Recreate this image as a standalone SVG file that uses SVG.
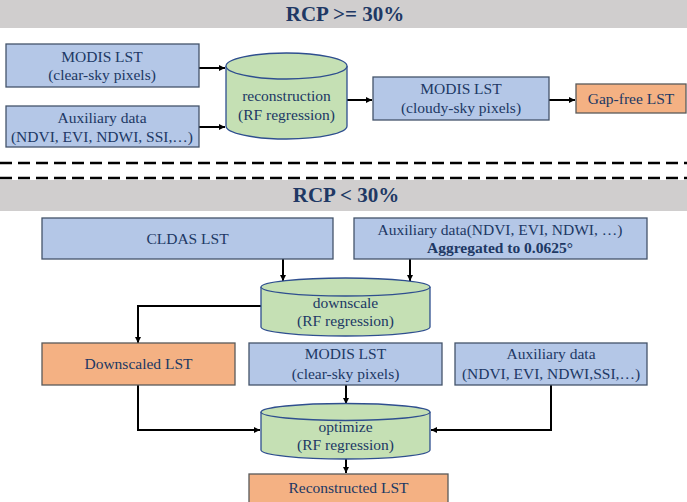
<svg xmlns="http://www.w3.org/2000/svg" width="687" height="502" viewBox="0 0 687 502">
<defs>
<style>
.t{font-family:"Liberation Serif","Times New Roman",serif;font-size:15.5px;fill:#203864;text-anchor:middle}
.b{font-weight:bold}
.h{font-family:"Liberation Serif","Times New Roman",serif;font-size:21px;font-weight:bold;fill:#203864;text-anchor:middle}
.bl{fill:#B4C7E7;stroke:#44546A;stroke-width:1.3}
.or{fill:#F4B183;stroke:#595959;stroke-width:1.3}
.cy{fill:#C5E0B4;stroke:#2F4F8F;stroke-width:1.3}
.band{fill:#D0CECE}
.ln{fill:none;stroke:#000;stroke-width:2}
.dash{fill:none;stroke:#000;stroke-width:2.5;stroke-dasharray:12 6}
</style>
<marker id="ah" viewBox="0 0 10 10" refX="10" refY="5" markerWidth="3.2" markerHeight="3.2" markerUnits="strokeWidth" orient="auto">
<path d="M0,0 L10,5 L0,10 z" fill="#000"/>
</marker>
</defs>
<rect width="687" height="502" fill="#fff"/>
<g id="band1"><rect class="band" x="0" y="0" width="687" height="28"/><text class="h" x="345" y="21">RCP &gt;= 30%</text></g>
<g id="separator"><line class="dash" x1="0" y1="163" x2="687" y2="163"/><line class="dash" x1="0" y1="178" x2="687" y2="178"/></g>
<g id="band2"><rect class="band" x="0" y="180" width="687" height="31"/><text class="h" x="346" y="202">RCP &lt; 30%</text></g>

<g id="connectors">
<line class="ln" x1="199" y1="68" x2="225" y2="68" marker-end="url(#ah)"/>
<line class="ln" x1="199" y1="127" x2="225" y2="127" marker-end="url(#ah)"/>
<line class="ln" x1="347" y1="100" x2="372" y2="100" marker-end="url(#ah)"/>
<line class="ln" x1="549" y1="100" x2="575" y2="100" marker-end="url(#ah)"/>
<line class="ln" x1="283" y1="259" x2="283" y2="281" marker-end="url(#ah)"/>
<line class="ln" x1="410" y1="259" x2="410" y2="281" marker-end="url(#ah)"/>
<polyline class="ln" points="261,306 138,306 138,343" marker-end="url(#ah)"/>
<line class="ln" x1="346" y1="385" x2="346" y2="404" marker-end="url(#ah)"/>
<polyline class="ln" points="138,385 138,430 260,430" marker-end="url(#ah)"/>
<polyline class="ln" points="551,385 551,430 431,430" marker-end="url(#ah)"/>
<line class="ln" x1="346" y1="459" x2="346" y2="473" marker-end="url(#ah)"/>
</g>

<g id="modis-clear-top"><rect class="bl" x="6" y="44" width="193" height="43"/><text class="t" x="102" y="62">MODIS LST</text><text class="t" x="102" y="80">(clear-sky pixels)</text></g>
<g id="aux-top"><rect class="bl" x="6" y="106" width="193" height="41"/><text class="t" x="102" y="123">Auxiliary data</text><text class="t" x="102" y="142">(NDVI, EVI, NDWI, SSI,…)</text></g>
<g id="reconstruction"><path class="cy" d="M226,66 L226,126 A60.5,13 0 0 0 347,126 L347,66"/><ellipse class="cy" cx="286.5" cy="66" rx="60.5" ry="13"/><text class="t" x="286.5" y="101">reconstruction</text><text class="t" x="286.5" y="120">(RF regression)</text></g>
<g id="modis-cloudy"><rect class="bl" x="373" y="77" width="176" height="43"/><text class="t" x="461" y="94">MODIS LST</text><text class="t" x="461" y="113">(cloudy-sky pixels)</text></g>
<g id="gap-free"><rect class="or" x="576" y="84" width="110" height="29"/><text class="t" x="631" y="104">Gap-free LST</text></g>

<g id="cldas"><rect class="bl" x="42" y="218" width="291" height="41"/><text class="t" x="187.5" y="244">CLDAS LST</text></g>
<g id="aux-agg"><rect class="bl" x="354" y="218" width="293" height="41"/><text class="t" x="500" y="235">Auxiliary data(NDVI, EVI, NDWI, …)</text><text class="t b" x="500" y="253">Aggregated to 0.0625°</text></g>
<g id="downscale"><path class="cy" d="M261,287 L261,327 A84.5,9 0 0 0 430,327 L430,287"/><ellipse class="cy" cx="345.5" cy="287" rx="84.5" ry="9"/><text class="t" x="345.5" y="308">downscale</text><text class="t" x="345.5" y="326">(RF regression)</text></g>
<g id="downscaled-lst"><rect class="or" x="42" y="343" width="193" height="42"/><text class="t" x="138.5" y="369">Downscaled LST</text></g>
<g id="modis-clear-bottom"><rect class="bl" x="249" y="343" width="193" height="42"/><text class="t" x="345.5" y="359">MODIS LST</text><text class="t" x="345.5" y="379">(clear-sky pixels)</text></g>
<g id="aux-bottom"><rect class="bl" x="455" y="343" width="192" height="42"/><text class="t" x="551" y="359">Auxiliary data</text><text class="t" x="551" y="379">(NDVI, EVI, NDWI,SSI,…)</text></g>
<g id="optimize"><path class="cy" d="M261,412 L261,450 A84.5,9 0 0 0 430,450 L430,412"/><ellipse class="cy" cx="345.5" cy="412" rx="84.5" ry="8.5"/><text class="t" x="345.5" y="432">optimize</text><text class="t" x="345.5" y="450">(RF regression)</text></g>
<g id="reconstructed-lst"><rect class="or" x="249" y="474" width="199" height="32"/><text class="t" x="348.5" y="493">Reconstructed LST</text></g>
</svg>
